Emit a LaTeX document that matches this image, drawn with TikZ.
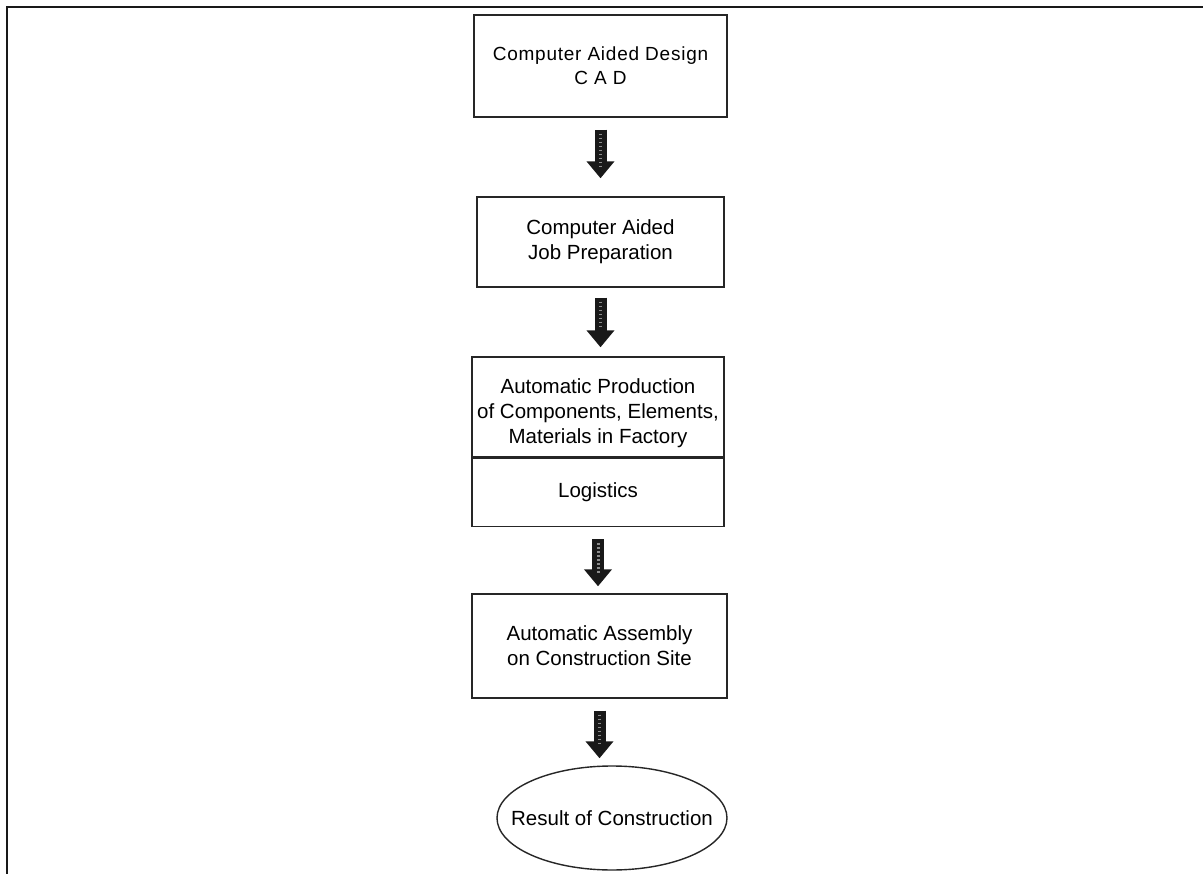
\documentclass[tikz,border=0pt]{standalone}
\usepackage{fontspec}
\setmainfont{Liberation Sans}
\newfontfamily\cadfont[LetterSpace=4]{Liberation Sans}
\usetikzlibrary{arrows.meta,shapes.geometric}
\begin{document}
\begin{tikzpicture}[x=1pt,y=-1pt,
  stepbox/.style={draw=black!85,line width=1.4pt,rectangle,align=center,inner sep=0pt,
     font=\fontsize{20.5}{25}\selectfont},
  flowarrow/.style={draw=black!90,line width=12pt,-{Triangle[width=27pt,length=17pt]}},
  speckle/.style={draw=white!55!black,line width=3pt,dash pattern=on 1.5pt off 2.5pt}
]
\useasboundingbox (0,0) rectangle (1203,874);
\fill[white] (0,0) rectangle (1203,874);
% frame
\draw[line width=2pt,black!90] (7,874) -- (7,7) -- (1203,7);
% boxes
\node[stepbox,minimum width=253pt,minimum height=102pt,font=\cadfont\fontsize{19}{24}\selectfont] (cad) at (600.5,66) {Computer Aided Design\\C A D};
\node[stepbox,minimum width=247pt,minimum height=90pt] (job) at (600.5,242) {Computer Aided\\Job Preparation};
\node[stepbox,minimum width=252pt,minimum height=100pt] (prod) at (598,407) {\raisebox{-6pt}[\height][\depth]{\parbox{250pt}{\centering Automatic Production\\of Components, Elements,\\Materials in Factory}}};
\node[stepbox,minimum width=252pt,minimum height=68pt,anchor=north] (logi) at (prod.south) {Logistics};
\node[stepbox,minimum width=255pt,minimum height=104pt] (site) at (599.5,646) {Automatic Assembly\\on Construction Site};
\node[ellipse,draw=black!85,line width=1.4pt,minimum width=230pt,minimum height=104pt,inner xsep=-20pt,inner ysep=0pt,
      font=\fontsize{20.5}{25}\selectfont] (res) at (612,818) {Result of Construction};
% arrows
\draw[flowarrow,shorten <=12pt,shorten >=18pt] (cad.south) -- (cad.south |- job.north);
\draw[speckle] ([yshift=-16pt]cad.south) -- ([yshift=-52pt]cad.south);
\draw[flowarrow,shorten <=10pt,shorten >=9pt] (job.south) -- (job.south |- prod.north);
\draw[speckle] ([yshift=-14pt]job.south) -- ([yshift=-40pt]job.south);
\draw[flowarrow,shorten <=12pt,shorten >=7pt] (logi.south) -- (logi.south |- site.north);
\draw[speckle] ([yshift=-16pt]logi.south) -- ([yshift=-48pt]logi.south);
\draw[flowarrow,shorten <=12pt,shorten >=7pt] (site.south) -- (site.south |- res.north);
\draw[speckle] ([yshift=-16pt]site.south) -- ([yshift=-46pt]site.south);
\end{tikzpicture}
\end{document}
